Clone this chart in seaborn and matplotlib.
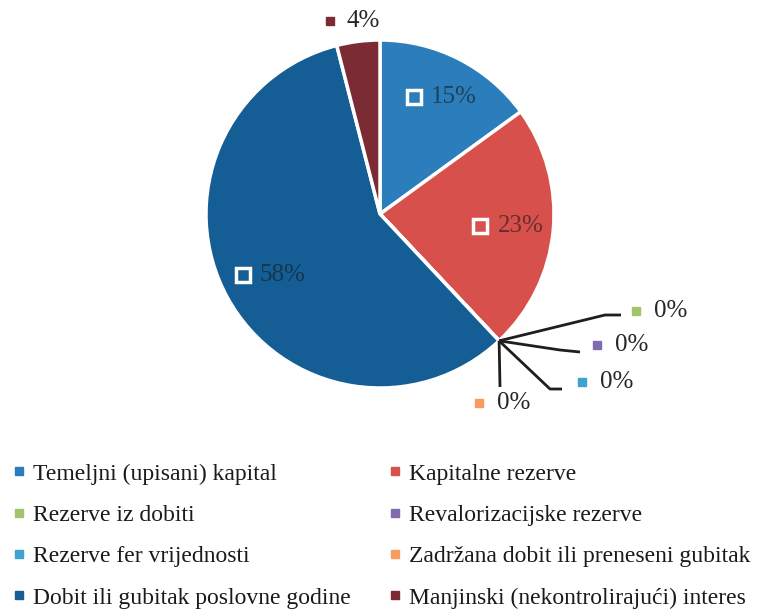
import matplotlib
matplotlib.use('Agg')  # bez GUI

import numpy as np
import matplotlib.pyplot as plt
from matplotlib.lines import Line2D
import seaborn as sns

# kategorije i udjeli (%) u redoslijedu kazaljke na satu od 12 h
categories = [
    'Temeljni (upisani) kapital',
    'Kapitalne rezerve',
    'Rezerve iz dobiti',
    'Revalorizacijske rezerve',
    'Rezerve fer vrijednosti',
    'Zadržana dobit ili preneseni gubitak',
    'Dobit ili gubitak poslovne godine',
    'Manjinski (nekontrolirajući) interes',
]
shares = [15, 23, 0, 0, 0, 0, 58, 4]
pct_labels = ['15%', '23%', '0%', '0%', '0%', '0%', '58%', '4%']
slice_colors = ['#2B7DBB', '#D8504B', '#A3C46C', '#7F6BAE',
                '#3FA2CF', '#F79B5E', '#145E95', '#7B2B33']

sns.set_style('white')
plt.rcParams['font.family'] = ['Liberation Serif', 'DejaVu Serif']
palette = sns.color_palette(slice_colors)

W, H = 757, 611
cx, cy, R = 380, 214, 174  # sredina i polumjer kruga u pikselima

fig = plt.figure(figsize=(W / 100, H / 100), dpi=100)
ax = fig.add_axes([0, 0, 1, 1])
ax.pie(shares, colors=palette, startangle=90, counterclock=False, radius=1,
       wedgeprops=dict(edgecolor='white', linewidth=2.5))
ax.set_xlim(-cx / R, (W - cx) / R)
ax.set_ylim(-(H - cy) / R, cy / R)
ax.set_aspect('equal', adjustable='box')
ax.axis('off')


def px(x, y):
    return (x - cx) / R, (cy - y) / R


fracs = np.array(shares) / sum(shares)
starts = np.concatenate([[0], np.cumsum(fracs)[:-1]])
mids = np.deg2rad(90 - 360 * (starts + fracs / 2))

# oznake unutar isječaka
for i, r in [(0, 0.755), (1, 0.73), (6, 0.73)]:
    x, y = r * np.cos(mids[i]), r * np.sin(mids[i])
    ax.plot(x - 26 / R, y, marker='s', ms=10, mfc=palette[i], mec='white', mew=2.5)
    ax.text(x - 9 / R, y, pct_labels[i], fontsize=18, color='#1a1a1a', alpha=0.6,
            ha='left', va='center')

# 4% izvan kruga
x, y = 1.12 * np.cos(mids[7]), 1.12 * np.sin(mids[7])
ax.plot(x - 26 / R, y, marker='s', ms=6, color=palette[7])
ax.text(x - 9 / R, y, pct_labels[7], fontsize=18, color='#262626', ha='left', va='center')

# oznake za 0% s linijama
ang0 = np.deg2rad(90 - 360 * starts[2])
p0 = (np.cos(ang0), np.sin(ang0))
leaders = {
    2: [(605, 315), (621, 315)],
    3: [(560, 350), (580, 352)],
    4: [(550, 389), (562, 389)],
    5: [(500, 387)],
}
label_pos = {2: (636, 311), 3: (597, 345), 4: (582, 382), 5: (479, 403)}
for i, pts in leaders.items():
    xs = [p0[0]] + [px(*p)[0] for p in pts]
    ys = [p0[1]] + [px(*p)[1] for p in pts]
    ax.plot(xs, ys, color='#1e1e1e', lw=2, solid_capstyle='butt')
    mx, my = px(*label_pos[i])
    ax.plot(mx, my, marker='s', ms=6, color=palette[i])
    ax.text(mx + 18 / R, my, pct_labels[i], fontsize=18, color='#262626',
            ha='left', va='center')

# legenda: dva stupca, popunjavanje po retcima
order = [0, 2, 4, 6, 1, 3, 5, 7]
handles = [Line2D([], [], ls='', marker='s', ms=6, color=palette[i]) for i in order]
fig.legend(handles, [categories[i] for i in order], ncol=2, loc='upper left',
           bbox_to_anchor=(12 / W, 1 - 463 / H), frameon=False, fontsize=17,
           handlelength=0.6, handletextpad=0.3, columnspacing=1.55,
           labelspacing=0.84, borderpad=0, borderaxespad=0, labelcolor='#1a1a1a')

plt.savefig('out.png', dpi=100)
